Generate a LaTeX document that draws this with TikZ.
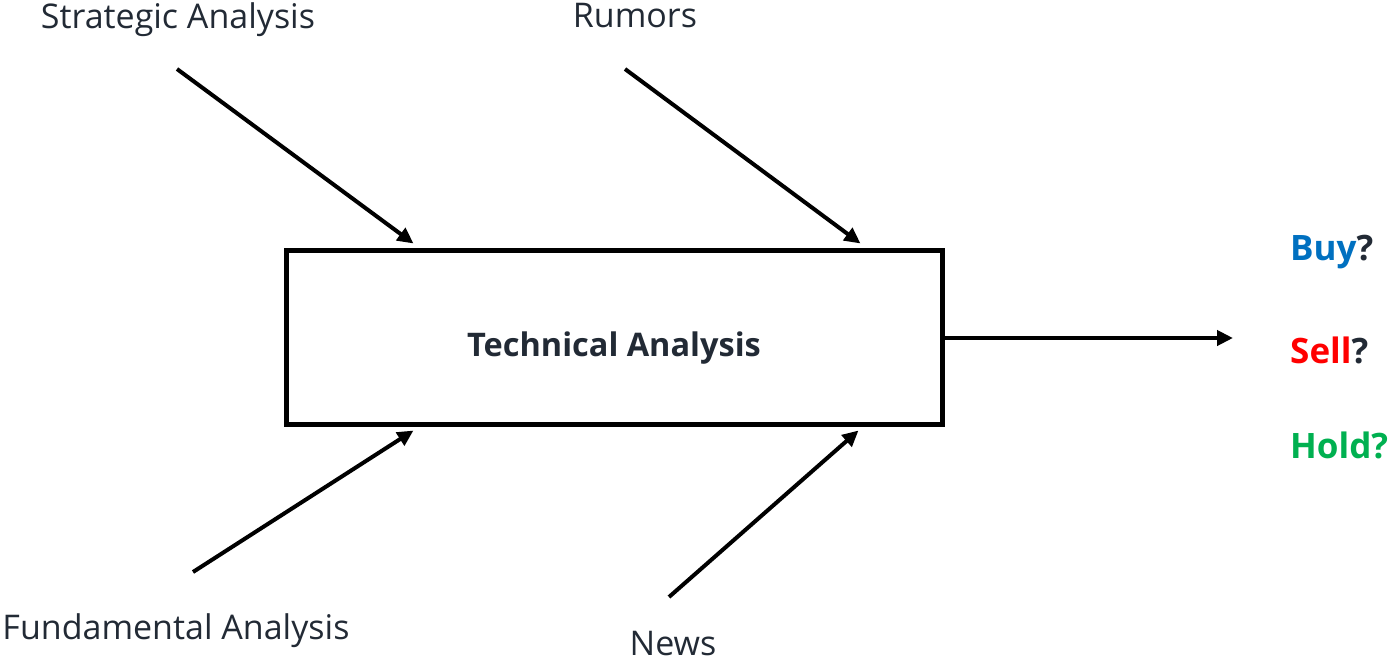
\documentclass[tikz,border=0pt]{standalone}
\usepackage{fontspec}
\setmainfont{Open Sans}
\usetikzlibrary{calc,arrows.meta,positioning}
\definecolor{ink}{HTML}{222A35}
\definecolor{buyblue}{HTML}{0070C0}
\definecolor{sellred}{HTML}{FF0000}
\definecolor{holdgreen}{HTML}{00B050}
\begin{document}
\begin{tikzpicture}[x=1pt,y=-1pt,
    factor/.style={
    % The text:
    font=\fontsize{34}{38}\selectfont,text=ink,inner sep=0pt},
    process/.style={
    % The shape:
    rectangle,minimum width=656pt,minimum height=174pt,
    % The rest
    line width=5pt,draw=black,text height=38pt,text depth=0pt,
    font=\bfseries\fontsize{32.5}{36}\selectfont,text=ink},
    decision/.style={
    font=\bfseries\fontsize{35}{40}\selectfont,inner sep=0pt,anchor=west},
    feed/.style={line width=4pt,-{Triangle[length=16pt,width=15pt]}}]
    \useasboundingbox (0,0) rectangle (1389,662);
    \node (tech) [process] at (614,337) {Technical Analysis};
    % the inputs
    \node (strat) [factor] at (178,20) {Strategic Analysis};
    \node (rumors) [factor] at (635,16) {Rumors};
    \node (fund) [factor] at (176,631) {Fundamental Analysis};
    \node (news) [factor] at (673,644) {News};
    \coordinate (strat-from) at (177,69);
    \coordinate (rumors-from) at (625,69);
    \coordinate (fund-from) at (193,572);
    \coordinate (news-from) at (669,597);
    \draw [feed] (strat-from) -- ($(tech.north west)+(130,-4)$);
    \draw [feed] (rumors-from) -- ($(tech.north west)+(577,-4)$);
    \draw [feed] (fund-from) -- ($(tech.south west)+(130,4)$);
    \draw [feed] (news-from) -- ($(tech.south west)+(575,4)$);
    % the outcome
    \coordinate (out-to) at (1233,338);
    \draw [feed] (tech.east |- out-to) -- (out-to);
    \node (buy) [decision] at (1290,252) {\textcolor{buyblue}{Buy}\textcolor{ink}{?}};
    \node (sell) [decision] at (1290,350) {\textcolor{sellred}{Sell}\textcolor{ink}{?}};
    \node (hold) [decision] at (1290,445) {\textcolor{holdgreen}{Hold?}};
\end{tikzpicture}
\end{document}
